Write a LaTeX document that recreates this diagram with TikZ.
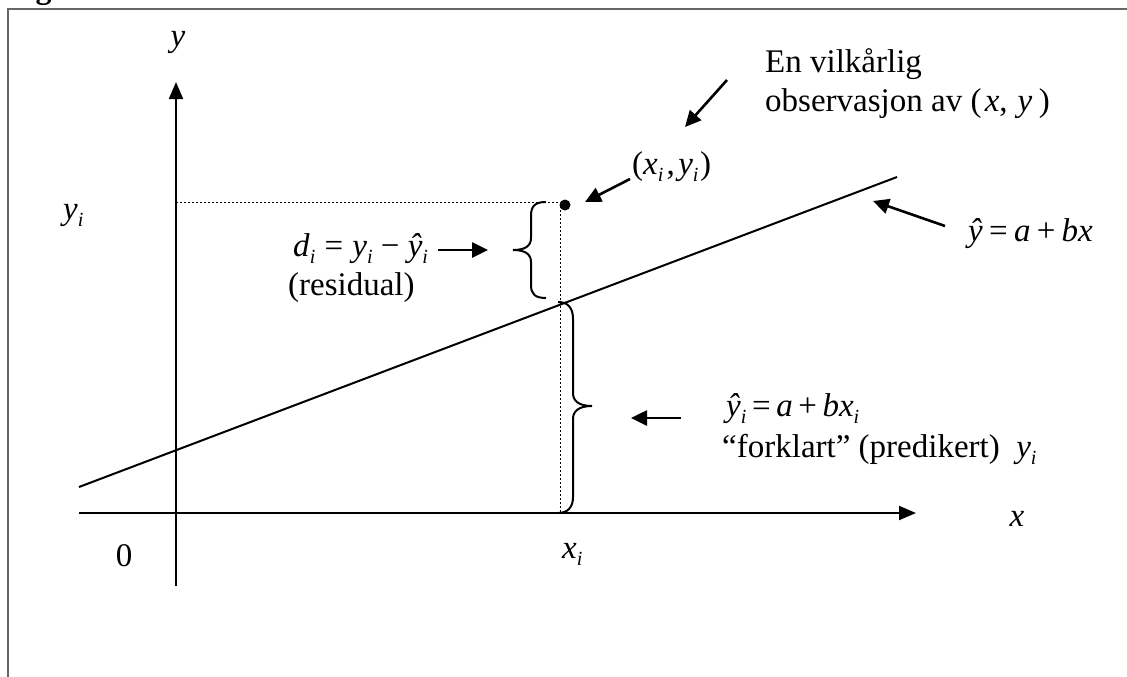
\documentclass[tikz,border=0pt]{standalone}
\usepackage{fontspec}
\setmainfont{Liberation Serif}
\usetikzlibrary{arrows.meta}
\newcommand{\V}[1]{\textit{#1}}
\newcommand{\mysub}[1]{\raisebox{-0.22em}{\fontsize{20}{20}\selectfont\textit{#1}}}
\newcommand{\rel}{\hspace{0.19em}}
\tikzset{
  axis/.style={line width=2pt,-{Triangle[length=17pt,width=14pt]}},
  pointer/.style={line width=2.6pt,-{Triangle[length=16pt,width=15pt]}},
  guide/.style={line width=1pt,dash pattern=on 2pt off 2pt},
  brace/.style={line width=2pt},
  lbl/.style={inner sep=0pt,font=\fontsize{33}{39}\selectfont},
}
\begin{document}
\begin{tikzpicture}[x=1pt,y=-1pt]
\useasboundingbox (0,0) rectangle (1127,677);
% frame
\draw[line width=1.6pt,black!60] (8,677) -- (8,9) -- (1127,9);
\node[lbl,anchor=base west,font=\fontsize{32}{38}\selectfont\bfseries] (fig) at (7,-1) {Figur 3};
% axes
\coordinate (yb) at (176,586);
\coordinate (yt) at (176,82);
\coordinate (xl) at (79,513);
\coordinate (xr) at (916,513);
\draw[axis] (yb) -- (yt);
\draw[axis] (xl) -- (xr);
\node[lbl] (ylab) at (178,42) {\V{y}};
\node[lbl] (xlab) at (1017,519) {\V{x}};
\node[lbl] (zero) at (124,556) {0};
\node[lbl,anchor=base west] (xi) at (562,558) {\V{x}\mysub{i}};
\node[lbl,anchor=base west] (yi) at (63,219) {\V{y}\mysub{i}};
% regression line
\coordinate (r1) at (79,487);
\coordinate (r2) at (897,177);
\draw[line width=2pt] (r1) -- (r2);
% guides
\coordinate (pt) at (565,205);
\coordinate (gx) at (560,202);
\coordinate (gy) at (176,202);
\coordinate (gb) at (560,513);
\draw[guide] (gy) -- (gx) -- (gb);
\fill (pt) circle (5.5pt);
% braces
\draw[brace] (546,202) .. controls (535,202) and (531,206) .. (531,216) -- (531,238) .. controls (531,246) and (525,250) .. (513,250) .. controls (525,250) and (531,254) .. (531,262) -- (531,285) .. controls (531,294) and (535,298) .. (546,298);
\draw[brace] (558,302) .. controls (568,302) and (573,308) .. (573,319) -- (573,393) .. controls (573,401) and (579,406) .. (592,406) .. controls (579,406) and (573,411) .. (573,419) -- (573,497) .. controls (573,507) and (568,513) .. (558,513);
% labels
\node[lbl,anchor=base west] (obs1) at (765,73) {En vilkårlig};
\node[lbl,anchor=base west] (obs2) at (765,111) {observasjon av (\hspace{0.1em}\V{x},\hspace{0.3em}\V{y}\hspace{0.2em})};
\coordinate (a1s) at (727,80);
\coordinate (a1e) at (685,127);
\draw[pointer] (a1s) -- (a1e);

\node[lbl,anchor=base west] (pxy) at (632,174) {(\V{x}\mysub{i}\hspace{0.1em},\hspace{0.1em}\V{y}\mysub{i}\hspace{0.05em})};
\coordinate (a2s) at (630,179);
\coordinate (a2e) at (585,202);
\draw[pointer] (a2s) -- (a2e);

\node[lbl,anchor=base west] (reg) at (968,241) {\V{ŷ}\rel=\rel\V{a}\rel+\rel\V{bx}};
\coordinate (a3s) at (945,226);
\coordinate (a3e) at (873,201);
\draw[pointer] (a3s) -- (a3e);

\node[lbl,anchor=base west] (di) at (293,256) {\V{d}\mysub{i}\hspace{0.28em}=\hspace{0.28em}\V{y}\mysub{i}\hspace{0.25em}−\hspace{0.25em}\V{ŷ}\mysub{i}};
\node[lbl,anchor=base west] (res) at (288,295) {(residual)};
\coordinate (a4s) at (438,250);
\coordinate (a4e) at (488,250);
\draw[pointer] (a4s) -- (a4e);

\node[lbl,anchor=base west] (yhi) at (726,416) {\V{ŷ}\mysub{i}\hspace{0.17em}=\hspace{0.17em}\V{a}\hspace{0.17em}+\hspace{0.17em}\V{bx}\mysub{i}};
\node[lbl,anchor=base west] (fork) at (722,457) {“forklart” (predikert) \ \V{y}\mysub{i}};
\coordinate (a5s) at (681,418);
\coordinate (a5e) at (631,418);
\draw[pointer] (a5s) -- (a5e);
\end{tikzpicture}
\end{document}
